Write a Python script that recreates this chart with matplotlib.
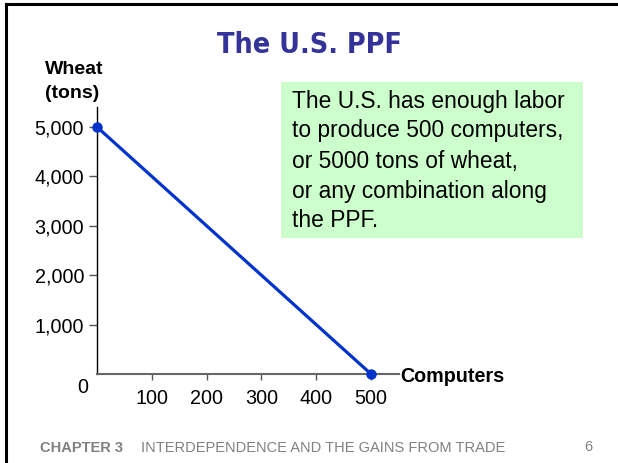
import matplotlib
matplotlib.use("Agg")
import matplotlib.pyplot as plt
from matplotlib.lines import Line2D

computers = [0, 500]
wheat = [5000, 0]
x_ticks = [100, 200, 300, 400, 500]
y_ticks = [1000, 2000, 3000, 4000, 5000]
y_tick_labels = ["1,000", "2,000", "3,000", "4,000", "5,000"]

title = "The U.S. PPF"
box_lines = ["The U.S. has enough labor", "to produce 500 computers,",
             "or 5000 tons of wheat,", "or any combination along", "the PPF."]

plt.rcParams['font.family'] = ['Liberation Sans', 'DejaVu Sans']

W, H = 618, 463
fig = plt.figure(figsize=(W / 100, H / 100), dpi=100)

def fx(px):
    return px / W

def fy(py):
    return 1 - py / H

# slide frame (left and top lines)
fig.add_artist(Line2D([fx(6), fx(6)], [fy(4), 0], color='black', lw=2.2, transform=fig.transFigure))
fig.add_artist(Line2D([fx(6), 1], [fy(4), fy(4)], color='black', lw=2.2, transform=fig.transFigure))

ax_left, ax_right, ax_top, ax_bottom = 97, 399, 107, 374
ax = fig.add_axes([fx(ax_left), fy(ax_bottom), (ax_right - ax_left) / W, (ax_bottom - ax_top) / H])

xmax = 500 * (ax_right - ax_left) / (371 - ax_left)
ymax = 5000 * (ax_bottom - ax_top) / (ax_bottom - 127)
ax.set_xlim(0, xmax)
ax.set_ylim(0, ymax)

ax.plot(computers, wheat, color='#0033CC', lw=2.3, marker='o', markersize=6.5,
        clip_on=False, zorder=5)

for s in ['top', 'right']:
    ax.spines[s].set_visible(False)
ax.spines['left'].set_color('black')
ax.spines['left'].set_linewidth(1.0)
ax.spines['bottom'].set_color('#666666')
ax.spines['bottom'].set_linewidth(1.5)

ax.set_xticks(x_ticks)
ax.set_xticklabels([str(v) for v in x_ticks], fontsize=14.2)
ax.tick_params(axis='x', direction='out', length=4.5, width=1, color='#555555', pad=6)
ax.set_yticks(y_ticks)
ax.set_yticklabels(y_tick_labels, fontsize=14.2)
ax.tick_params(axis='y', direction='out', length=5.8, width=1, color='#555555', pad=3.5)

ax.annotate("0", xy=(0, 0), xytext=(-10, -10), textcoords='offset points',
            ha='center', va='center', fontsize=14.2)

fig.text(fx(74), fy(70), "Wheat", ha='center', va='center', fontsize=14, fontweight='bold')
fig.text(fx(72), fy(93), "(tons)", ha='center', va='center', fontsize=14, fontweight='bold')
fig.text(fx(400), fy(376), "Computers", ha='left', va='center', fontsize=14.2, fontweight='bold')

fig.text(0.5, fy(53), title, ha='center', va='baseline', fontsize=20.5, fontweight='bold',
         color='#333399', family=['DejaVu Sans'], fontstretch='condensed')

# green box
fig.add_artist(plt.Rectangle((fx(281), fy(238)), (583 - 281) / W, (238 - 82) / H,
                             transform=fig.transFigure, facecolor='#CCFFCC', edgecolor='none'))
line_y = [108, 137, 168, 198, 227]
for txt, yy in zip(box_lines, line_y):
    fig.text(fx(292), fy(yy), txt, ha='left', va='baseline', fontsize=16.4, color='black')

fig.text(fx(40), fy(448), "CHAPTER 3", ha='left', va='center', fontsize=10.5, fontweight='bold', color='#808080')
fig.text(fx(141), fy(448), "INTERDEPENDENCE AND THE GAINS FROM TRADE", ha='left', va='center',
         fontsize=10.5, color='#808080')
fig.text(fx(588), fy(447), "6", ha='center', va='center', fontsize=10.5, color='#808080')

fig.savefig("out.png", dpi=100)
